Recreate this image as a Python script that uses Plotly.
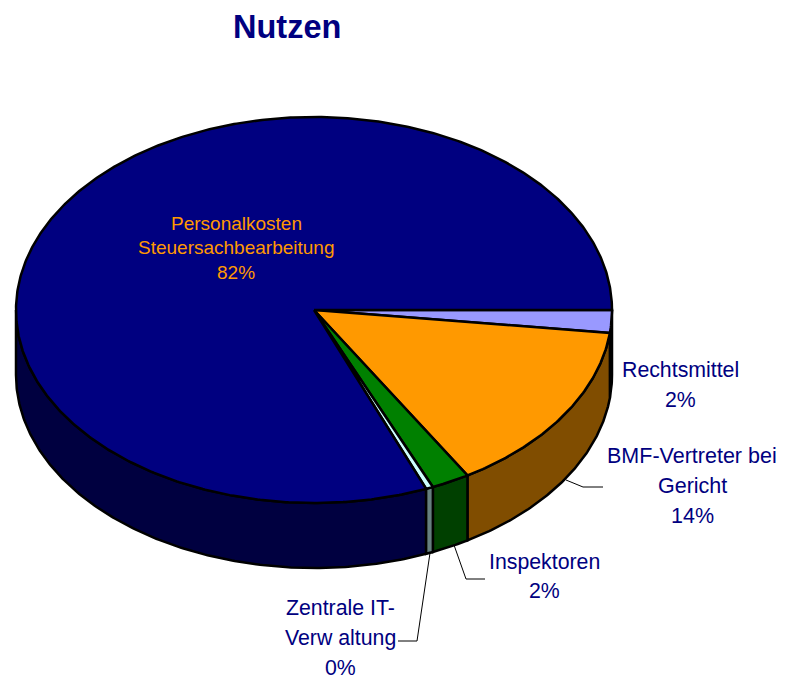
import numpy as np
import plotly.graph_objects as go

categories = ["Rechtsmittel", "BMF-Vertreter bei\nGericht", "Inspektoren",
              "Zentrale IT-\nVerw altung", "Personalkosten\nSteuersachbearbeitung"]
values = [1.9, 14.49, 2.08, 0.39, 81.14]
percent_labels = ["2%", "14%", "2%", "0%", "82%"]
top_colors = ["#9999FF", "#FF9900", "#008000", "#CCFFFF", "#000080"]
wall_colors = ["#4D4D80", "#804D00", "#004000", "#668080", "#000040"]
label_colors = ["#000080", "#000080", "#000080", "#000080", "#FF9900"]
label_x = [680, 692, 544, 340, 236]
label_y = [370, 456, 562, 608, 223]
label_step = [30, 30, 29, 30, 24.5]
label_size = [21.3, 21.5, 21.3, 21.3, 19]

CX, CY, RX, RY, DEPTH = 314, 310, 298, 193, 65
FONT = "Liberation Sans"
PAGE_MARGIN = 8  # the page's body margin offsets the plot


def arc(a0, a1, dy=0.0):
    t = np.radians(np.linspace(a0, a1, max(int(abs(a1 - a0) * 2), 2) + 1))
    return CX + RX * np.cos(t), CY + dy + RY * np.sin(t)


edges = np.concatenate([[0], np.cumsum(values)]) / sum(values) * 360
fig = go.Figure()


def poly(x, y, color):
    fig.add_trace(go.Scatter(x=x, y=y, mode="lines", fill="toself", fillcolor=color,
                             line=dict(color="black", width=2.5), hoverinfo="skip",
                             showlegend=False))


# side walls: only the front half (0-180 deg) is visible
for i in np.argsort([-abs(90 - (edges[j] + min(edges[j + 1], 180)) / 2) for j in range(5)]):
    a0, a1 = edges[i], min(edges[i + 1], 180)
    if a0 >= 180:
        continue
    xt, yt = arc(a0, a1)
    xb, yb = arc(a1, a0, DEPTH)
    poly(np.r_[xt, xb, xt[0]], np.r_[yt, yb, yt[0]], wall_colors[i])

# top faces
for i in range(5):
    xt, yt = arc(edges[i], edges[i + 1])
    poly(np.r_[CX, xt, CX], np.r_[CY, yt, CY], top_colors[i])

annotations = [dict(xref="x", yref="y", x=287, y=27, text="<b>Nutzen</b>", showarrow=False,
                    font=dict(family=FONT, size=32.5, color="#000080"))]
for i, cat in enumerate(categories):
    lines = cat.split("\n") + [percent_labels[i]]
    for k, line in enumerate(lines):
        annotations.append(dict(xref="x", yref="y", x=label_x[i],
                                y=label_y[i] + k * label_step[i], text=line, showarrow=False,
                                font=dict(family=FONT, size=label_size[i], color=label_colors[i])))

leaders = ["M566,480 L583,487 L603,487", "M454,545 L466,579 L485,579", "M430,553 L417,641 L398,641"]
shapes = [dict(type="path", xref="x", yref="y", path=p, line=dict(color="black", width=1))
          for p in leaders]

fig.update_layout(
    width=790, height=677, autosize=False, margin=dict(l=0, r=0, t=0, b=0),
    paper_bgcolor="white", plot_bgcolor="white",
    xaxis=dict(range=[PAGE_MARGIN, 790 + PAGE_MARGIN], visible=False, fixedrange=True),
    yaxis=dict(range=[677 + PAGE_MARGIN, PAGE_MARGIN], visible=False, fixedrange=True),
    annotations=annotations, shapes=shapes,
)
fig.write_html("out.html", config={"displayModeBar": False})
